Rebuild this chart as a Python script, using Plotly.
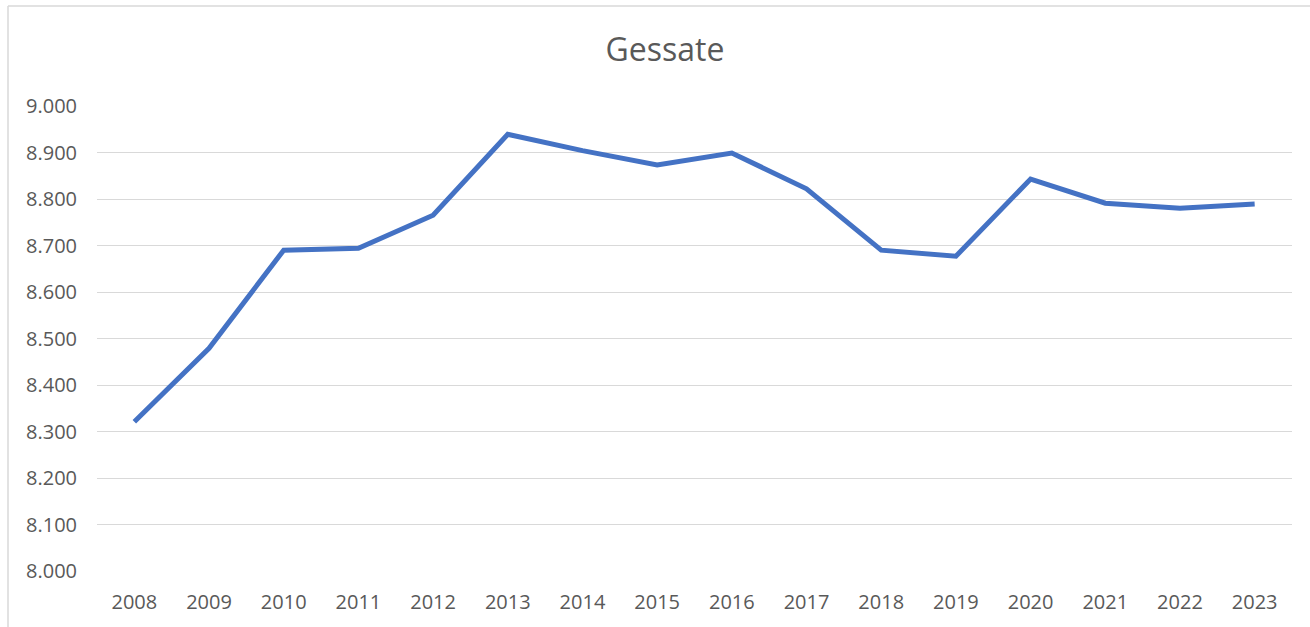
import plotly.graph_objects as go

years = ["2008", "2009", "2010", "2011", "2012", "2013", "2014", "2015",
         "2016", "2017", "2018", "2019", "2020", "2021", "2022", "2023"]
population = [8321, 8479, 8690, 8694, 8765, 8939, 8904, 8873,
              8899, 8822, 8690, 8677, 8843, 8791, 8780, 8789]
y_ticks = [8000, 8100, 8200, 8300, 8400, 8500, 8600, 8700, 8800, 8900, 9000]

fig = go.Figure()
fig.add_trace(go.Scatter(
    x=years, y=population, mode="lines",
    line=dict(color="#4472C4", width=5),
    hoverinfo="x+y",
))

font_family = "Open Sans, Liberation Sans, sans-serif"
fig.update_layout(
    width=1310, height=627,
    margin=dict(l=97, r=18, t=106, b=56),
    paper_bgcolor="white", plot_bgcolor="white",
    separators=",.",
    showlegend=False,
    title=dict(text="Gessate", x=665/1310, xanchor="center", y=1 - 50/627, yanchor="middle",
               font=dict(family=font_family, size=32, color="#595959")),
    xaxis=dict(
        type="category", range=[-0.5, len(years) - 0.5],
        showgrid=False, zeroline=False, showline=False,
        tickfont=dict(family=font_family, size=20, color="#595959"),
        ticks="", ticklabelstandoff=17,
    ),
    yaxis=dict(
        range=[8000, 9000], tickvals=y_ticks, tickformat=",.0f",
        showgrid=True, gridcolor="#d9d9d9", gridwidth=1.3,
        zeroline=False, showline=False, ticks="",
        tickfont=dict(family=font_family, size=20, color="#595959"),
        ticklabelstandoff=19,
    ),
)

# chart-area border (left and top edges visible)
px_w = 1310 - 97 - 18
px_h = 627 - 106 - 56
def px2x(p):
    return (p - 97) / px_w
def py2y(p):
    return (627 - 56 - p) / px_h
border = dict(color="#d9d9d9", width=1.5)
fig.add_shape(type="line", xref="paper", yref="paper",
              x0=px2x(8), x1=px2x(8), y0=py2y(6), y1=py2y(640), line=border)
fig.add_shape(type="line", xref="paper", yref="paper",
              x0=px2x(8), x1=px2x(1320), y0=py2y(6), y1=py2y(6), line=border)

fig.write_html("out.html", config={"displayModeBar": False},
               post_script="document.body.style.margin='0';")
